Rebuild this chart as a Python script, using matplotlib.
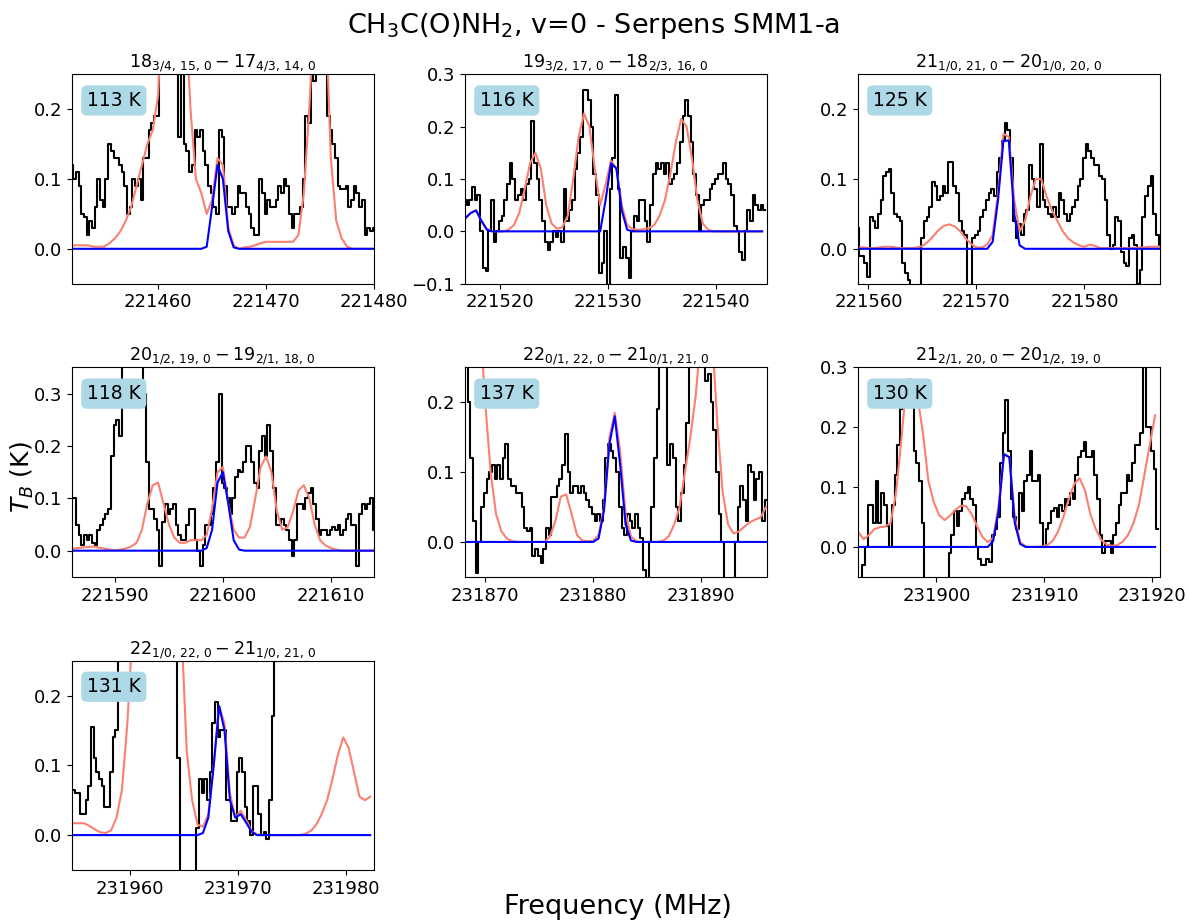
import numpy as np
import matplotlib
matplotlib.use('Agg')
import matplotlib.pyplot as plt
from matplotlib.ticker import MultipleLocator

# channel widths (MHz) of the observed spectra and of the model curves
obs_dv = 0.25
mod_dv = 0.5

# first channel frequency of each panel (MHz)
f_start = [221452.0, 221516.75, 221559.0, 221586.0, 231868.0, 231892.75, 231954.75]

titles = [r'$18_{3/4,\,15,\,0} - 17_{4/3,\,14,\,0}$',
          r'$19_{3/2,\,17,\,0} - 18_{2/3,\,16,\,0}$',
          r'$21_{1/0,\,21,\,0} - 20_{1/0,\,20,\,0}$',
          r'$20_{1/2,\,19,\,0} - 19_{2/1,\,18,\,0}$',
          r'$22_{0/1,\,22,\,0} - 21_{0/1,\,21,\,0}$',
          r'$21_{2/1,\,20,\,0} - 20_{1/2,\,19,\,0}$',
          r'$22_{1/0,\,22,\,0} - 21_{1/0,\,21,\,0}$']
temps = ['113 K', '116 K', '125 K', '118 K', '137 K', '130 K', '131 K']

# observed spectra (K)
obs1 = [0.12, 0.10, 0.11, 0.09, 0.05, 0.045, 0.02, 0.04, 0.03, 0.06,
        0.10, 0.07, 0.06, 0.10, 0.15, 0.14, 0.13, 0.13, 0.12, 0.11,
        0.09, 0.05, 0.06, 0.10, 0.09, 0.10, 0.07, 0.13, 0.13, 0.17,
        0.18, 0.19, 0.19, 0.30, 0.35, 0.40, 0.40, 0.35, 0.30, 0.28,
        0.16, 0.30, 0.15, 0.14, 0.11, 0.12, 0.17, 0.16, 0.17, 0.14,
        0.12, 0.09, 0.08, 0.06, 0.05, 0.17, 0.16, 0.09, 0.06, 0.06,
        0.05, 0.06, 0.09, 0.08, 0.08, 0.06, 0.05, 0.03, 0.02, 0.02,
        0.10, 0.08, 0.05, 0.07, 0.06, 0.06, 0.07, 0.09, 0.08, 0.10,
        0.09, 0.05, 0.03, 0.05, 0.05, 0.06, 0.10, 0.19, 0.18, 0.28,
        0.24, 0.25, 0.30, 0.32, 0.28, 0.19, 0.17, 0.15, 0.13, 0.09,
        0.085, 0.085, 0.09, 0.06, 0.07, 0.09, 0.08, 0.06, 0.07, 0.02,
        0.03, 0.025, 0.03]
obs2 = [0.06, 0.05, 0.06, 0.085, 0.06, 0.07, 0.0, -0.07, -0.075, 0.0,
        0.06, -0.02, 0.0, 0.02, 0.03, 0.06, 0.09, 0.13, 0.10, 0.06,
        0.07, 0.08, 0.06, 0.09, 0.10, 0.21, 0.13, 0.10, 0.06, 0.02,
        -0.02, -0.035, -0.02, 0.0, -0.01, 0.0, -0.02, 0.08, 0.02, 0.04,
        0.06, 0.12, 0.15, 0.18, 0.27, 0.27, 0.25, 0.20, 0.11, 0.07,
        -0.08, -0.06, 0.0, -0.12, 0.08, 0.14, 0.26, 0.08, -0.05, -0.03,
        -0.05, -0.09, 0.0, 0.03, 0.02, 0.06, 0.06, 0.02, -0.02, 0.05,
        0.11, 0.13, 0.12, 0.13, 0.11, 0.13, 0.09, 0.10, 0.11, 0.13,
        0.17, 0.22, 0.25, 0.22, 0.17, 0.11, 0.07, 0.0, 0.05, 0.06,
        0.06, 0.08, 0.09, 0.10, 0.11, 0.11, 0.13, 0.10, 0.09, 0.07,
        0.01, 0.0, -0.04, -0.055, 0.0, 0.04, 0.02, 0.07, 0.05, 0.04,
        0.05, 0.04]
obs3 = [0.03, -0.01, -0.01, -0.02, -0.04, 0.045, 0.04, 0.03, 0.05, 0.07,
        0.105, 0.11, 0.115, 0.08, 0.05, 0.045, 0.04, -0.02, -0.035, -0.045,
        -0.07, -0.08, -0.07, -0.06, 0.015, 0.04, 0.045, 0.06, 0.095, 0.09,
        0.07, 0.075, 0.09, 0.08, 0.125, 0.125, 0.09, 0.08, 0.04, 0.025,
        0.02, -0.07, -0.06, 0.015, 0.02, 0.025, 0.045, 0.055, 0.07, 0.08,
        0.085, 0.075, 0.11, 0.13, 0.155, 0.18, 0.17, 0.13, 0.04, 0.015,
        0.035, 0.02, 0.05, 0.055, 0.12, 0.10, 0.085, 0.06, 0.15, 0.07,
        0.06, 0.05, 0.045, 0.06, 0.045, 0.08, 0.07, 0.05, 0.04, 0.05,
        0.06, 0.07, 0.09, 0.10, 0.13, 0.15, 0.14, 0.13, 0.12, 0.12,
        0.105, 0.10, 0.07, 0.02, 0.0, 0.005, 0.045, 0.04, -0.005, -0.02,
        -0.025, 0.015, 0.02, 0.005, -0.05, -0.03, 0.045, 0.075, 0.09, 0.105,
        0.05, 0.02, 0.005]
obs4 = [0.10, 0.10, 0.05, 0.03, 0.01, 0.03, 0.02, 0.03, 0.015, 0.01,
        0.04, 0.05, 0.06, 0.07, 0.08, 0.18, 0.24, 0.25, 0.22, 0.38,
        0.45, 0.50, 0.52, 0.50, 0.47, 0.43, 0.38, 0.30, 0.17, 0.08,
        0.08, 0.06, 0.04, -0.03, 0.055, 0.09, 0.07, 0.08, 0.09, 0.05,
        0.03, 0.02, 0.02, 0.05, 0.08, 0.08, 0.02, 0.0, -0.03, 0.01,
        0.05, 0.05, 0.07, 0.12, 0.17, 0.30, 0.13, 0.12, 0.10, 0.07,
        0.10, 0.14, 0.155, 0.15, 0.17, 0.20, 0.20, 0.17, 0.13, 0.12,
        0.19, 0.22, 0.18, 0.24, 0.19, 0.12, 0.05, 0.05, 0.06, 0.05,
        0.04, 0.02, -0.01, 0.02, 0.09, 0.09, 0.08, 0.10, 0.11, 0.12,
        0.09, 0.06, 0.03, 0.04, 0.04, 0.03, 0.04, 0.045, 0.04, 0.05,
        0.03, 0.04, 0.06, 0.07, 0.05, 0.05, -0.03, 0.07, 0.09, 0.08,
        0.09, 0.10, 0.04]
obs5 = [0.30, 0.25, 0.20, 0.12, 0.03, -0.045, 0.0, 0.05, 0.07, 0.09,
        0.10, 0.11, 0.09, 0.11, 0.09, 0.12, 0.14, 0.09, 0.08, 0.08,
        0.07, 0.07, 0.05, 0.02, 0.015, 0.02, -0.02, -0.01, -0.02, -0.03,
        -0.01, 0.02, 0.01, 0.065, 0.065, 0.08, 0.09, 0.11, 0.155, 0.10,
        0.07, 0.08, 0.08, 0.07, 0.08, 0.07, 0.06, 0.05, 0.04, 0.03,
        0.04, 0.03, 0.06, 0.12, 0.14, 0.13, 0.12, 0.10, 0.05, 0.02,
        0.01, 0.04, 0.03, 0.02, 0.04, 0.02, 0.005, -0.04, -0.06, 0.0,
        0.05, 0.12, 0.19, 0.26, 0.30, 0.28, 0.11, 0.14, 0.12, 0.05,
        0.03, 0.07, 0.11, 0.17, 0.25, 0.30, 0.35, 0.35, 0.32, 0.28,
        0.23, 0.24, 0.20, 0.16, 0.10, 0.04, 0.0, -0.06, -0.08, -0.08,
        -0.06, 0.0, 0.05, 0.08, 0.06, 0.03, 0.11, 0.10, 0.06, 0.09,
        0.10, 0.03, 0.06]
obs6 = [-0.07, -0.08, -0.03, 0.0, 0.07, 0.07, 0.04, 0.11, 0.04, 0.09,
        0.07, 0.035, 0.0, 0.07, 0.12, 0.17, 0.23, 0.24, 0.25, 0.24,
        0.25, 0.16, 0.14, 0.11, 0.04, -0.07, -0.10, -0.12, -0.12, -0.12,
        -0.10, -0.09, -0.07, -0.06, -0.01, 0.02, 0.06, 0.035, 0.06, 0.08,
        0.09, 0.10, 0.08, 0.07, 0.0, -0.02, -0.03, -0.03, -0.02, -0.025,
        0.02, 0.03, 0.05, 0.14, 0.19, 0.245, 0.16, 0.08, 0.05, 0.03,
        0.09, 0.06, 0.11, 0.12, 0.16, 0.11, 0.11, 0.12, 0.04, 0.0,
        0.03, 0.04, 0.06, 0.065, 0.05, 0.07, 0.06, 0.08, 0.07, 0.09,
        0.08, 0.12, 0.15, 0.16, 0.175, 0.15, 0.15, 0.16, 0.12, 0.08,
        0.02, -0.01, 0.01, 0.01, -0.01, 0.02, 0.04, 0.07, 0.09, 0.09,
        0.12, 0.11, 0.14, 0.17, 0.17, 0.19, 0.34, 0.20, 0.20, 0.16,
        0.13, 0.03]
obs7 = [0.065, 0.06, 0.06, 0.03, 0.03, 0.05, 0.07, 0.155, 0.11, 0.09,
        0.08, 0.07, 0.04, 0.04, 0.09, 0.14, 0.15, 0.30, 0.40, 0.50,
        0.6, 0.7, 0.8, 0.9, 1.0, 1.0, 0.95, 0.9, 0.85, 0.8,
        0.75, 0.7, 0.65, 0.6, 0.55, 0.5, 0.45, 0.40, 0.35, 0.11,
        -0.10, -0.15, -0.20, -0.20, -0.15, -0.10, 0.01, 0.08, 0.06, 0.08,
        0.05, 0.09, 0.16, 0.19, 0.14, 0.15, 0.15, 0.05, 0.05, 0.02,
        0.02, 0.09, 0.11, 0.09, 0.04, 0.02, 0.0, 0.07, 0.07, 0.03,
        0.0, 0.005, -0.005, 0.05, 0.17, 0.25, 0.35, 0.45, 0.55, 0.65,
        0.75, 0.85, 0.95, 1.05, 1.15, 1.25, 1.35, 1.45, 1.5, 1.55,
        1.6, 1.65, 1.7, 1.7, 1.7, 1.65, 1.6, 1.55, 1.5, 1.45,
        1.4, 1.35, 1.3, 1.25, 1.2, 1.15, 1.1, 1.05, 1.0, 0.95,
        0.9, 0.85]

# full model (all species)
mod1 = [0.005, 0.005, 0.005, 0.005, 0.003, 0.003, 0.003, 0.008, 0.015, 0.025,
        0.04, 0.06, 0.09, 0.12, 0.15, 0.17, 0.22, 0.40, 0.60, 0.70,
        0.60, 0.35, 0.20, 0.10, 0.08, 0.05, 0.07, 0.13, 0.12, 0.03,
        0.005, 0.0, 0.002, 0.003, 0.005, 0.008, 0.01, 0.01, 0.01, 0.01,
        0.01, 0.01, 0.02, 0.08, 0.20, 0.35, 0.50, 0.35, 0.13, 0.04,
        0.015, 0.003, 0.0, 0.0, 0.0, 0.0, 0.0]
mod2 = [0.025, 0.035, 0.04, 0.02, 0.005, 0.0, 0.0, 0.0, 0.003, 0.012,
        0.035, 0.08, 0.13, 0.15, 0.12, 0.05, 0.015, 0.005, 0.008, 0.03,
        0.10, 0.18, 0.225, 0.20, 0.12, 0.05, 0.09, 0.135, 0.12, 0.05,
        0.012, 0.004, 0.003, 0.004, 0.006, 0.012, 0.03, 0.06, 0.11, 0.17,
        0.215, 0.20, 0.14, 0.06, 0.015, 0.003, 0.0, 0.0, 0.0, 0.0,
        0.0, 0.0, 0.0, 0.0, 0.0, 0.0]
mod3 = [0.002, 0.002, 0.001, 0.001, 0.002, 0.003, 0.003, 0.002, 0.001, 0.001,
        0.001, 0.002, 0.004, 0.01, 0.018, 0.027, 0.033, 0.035, 0.032, 0.025,
        0.015, 0.007, 0.002, 0.002, 0.006, 0.02, 0.08, 0.165, 0.16, 0.07,
        0.025, 0.04, 0.075, 0.10, 0.10, 0.075, 0.055, 0.04, 0.025, 0.015,
        0.009, 0.005, 0.003, 0.006, 0.004, 0.001, 0.001, 0.001, 0.001, 0.001,
        0.001, 0.001, 0.002, 0.002, 0.003, 0.003, 0.003]
mod4 = [0.004, 0.005, 0.006, 0.007, 0.008, 0.006, 0.004, 0.002, 0.001, 0.002,
        0.004, 0.008, 0.015, 0.04, 0.09, 0.125, 0.13, 0.09, 0.05, 0.025,
        0.015, 0.015, 0.02, 0.02, 0.02, 0.03, 0.08, 0.15, 0.16, 0.09,
        0.04, 0.025, 0.025, 0.045, 0.10, 0.16, 0.18, 0.15, 0.075, 0.04,
        0.045, 0.075, 0.115, 0.125, 0.10, 0.05, 0.02, 0.01, 0.005, 0.002,
        0.0, 0.0, 0.0, 0.0, 0.0, 0.0, 0.0]
mod5 = [0.8, 0.6, 0.45, 0.32, 0.20, 0.10, 0.04, 0.015, 0.005, 0.001,
        0.0, 0.0, 0.0, 0.0, 0.0, 0.0, 0.008, 0.03, 0.065, 0.068,
        0.04, 0.01, 0.002, 0.001, 0.002, 0.01, 0.05, 0.15, 0.185, 0.13,
        0.04, 0.008, 0.001, 0.0, 0.0, 0.0, 0.0, 0.002, 0.008, 0.025,
        0.05, 0.10, 0.15, 0.21, 0.30, 0.33, 0.30, 0.17, 0.07, 0.025,
        0.012, 0.015, 0.022, 0.028, 0.032, 0.035, 0.05]
mod6 = [0.025, 0.013, 0.02, 0.03, 0.033, 0.034, 0.04, 0.09, 0.18, 0.28,
        0.28, 0.25, 0.19, 0.11, 0.075, 0.053, 0.045, 0.052, 0.062, 0.069,
        0.068, 0.055, 0.035, 0.017, 0.008, 0.015, 0.07, 0.155, 0.15, 0.05,
        0.008, 0.001, 0.0, 0.0, 0.001, 0.003, 0.01, 0.025, 0.05, 0.08,
        0.105, 0.115, 0.095, 0.055, 0.03, 0.012, 0.004, 0.002, 0.003, 0.009,
        0.02, 0.04, 0.07, 0.12, 0.17, 0.22]
mod7 = [0.017, 0.017, 0.017, 0.013, 0.008, 0.004, 0.003, 0.007, 0.025, 0.065,
        0.16, 0.30, 0.45, 0.6, 0.7, 0.75, 0.75, 0.7, 0.6, 0.45,
        0.3, 0.12, 0.05, 0.015, 0.012, 0.03, 0.10, 0.185, 0.16, 0.06,
        0.025, 0.035, 0.022, 0.006, 0.001, 0.0, 0.0, 0.0, 0.0, 0.0,
        0.0, 0.0, 0.0, 0.002, 0.006, 0.015, 0.03, 0.05, 0.08, 0.115,
        0.14, 0.125, 0.09, 0.055, 0.05, 0.055]

# CH3C(O)NH2 model only
spec1 = [0.0] * 25 + [0.003, 0.06, 0.12, 0.10, 0.025, 0.002] + [0.0] * 26
spec2 = [0.025, 0.035, 0.04, 0.02, 0.003] + [0.0] * 21 + [0.06, 0.13, 0.12, 0.04, 0.003] + [0.0] * 25
spec3 = [0.0] * 25 + [0.01, 0.07, 0.155, 0.155, 0.05, 0.005] + [0.0] * 26
spec4 = [0.0] * 25 + [0.005, 0.04, 0.13, 0.15, 0.09, 0.02, 0.002] + [0.0] * 25
spec5 = [0.0] * 25 + [0.005, 0.045, 0.14, 0.18, 0.11, 0.025, 0.002] + [0.0] * 25
spec6 = [0.0] * 25 + [0.01, 0.06, 0.155, 0.15, 0.04, 0.005] + [0.0] * 25
spec7 = [0.0] * 24 + [0.003, 0.025, 0.10, 0.185, 0.15, 0.05, 0.025, 0.03, 0.018, 0.005] + [0.0] * 22

observed = [obs1, obs2, obs3, obs4, obs5, obs6, obs7]
models = [mod1, mod2, mod3, mod4, mod5, mod6, mod7]
species = [spec1, spec2, spec3, spec4, spec5, spec6, spec7]

xlims = [(221452.0, 221480.0), (221516.7, 221544.7), (221559.0, 221587.0),
         (221586.0, 221614.0), (231868.1, 231896.1), (231892.7, 231920.7),
         (231954.6, 231982.6)]
ylims = [(-0.05, 0.25), (-0.1, 0.3), (-0.05, 0.25), (-0.05, 0.35),
         (-0.05, 0.25), (-0.05, 0.3), (-0.05, 0.25)]

fig, axes = plt.subplots(3, 3, figsize=(11.88, 9.22), dpi=100)
plt.subplots_adjust(left=0.0604, right=0.9764, top=0.9194, bottom=0.0564,
                    wspace=0.30, hspace=0.40)
axes = axes.flatten()

for n in range(7):
    ax = axes[n]
    f_obs = f_start[n] + obs_dv * np.arange(len(observed[n]))
    f_mod = f_start[n] + mod_dv * np.arange(len(models[n]))
    ax.plot(f_obs, observed[n], color='k', lw=1.5, drawstyle='steps-mid')
    ax.plot(f_mod, models[n], color='salmon', lw=1.5)
    ax.plot(f_mod, species[n], color='blue', lw=1.5)
    ax.set_xlim(xlims[n])
    ax.set_ylim(ylims[n])
    ax.xaxis.set_major_locator(MultipleLocator(10))
    ax.yaxis.set_major_locator(MultipleLocator(0.1))
    ax.ticklabel_format(axis='x', useOffset=False, style='plain')
    ax.tick_params(labelsize=13)
    ax.set_title(titles[n], fontsize=12.6, pad=4)
    ax.text(0.05, 0.875, temps[n], transform=ax.transAxes, fontsize=13.5,
            va='center', ha='left',
            bbox=dict(boxstyle='round', facecolor='lightblue', edgecolor='none'))

axes[7].axis('off')
axes[8].axis('off')

fig.suptitle(r'CH$_3$C(O)NH$_2$, v=0 - Serpens SMM1-a', fontsize=19.5, y=0.988)
fig.text(0.52, 0.016, 'Frequency (MHz)', fontsize=19.5, ha='center', va='center')
fig.text(0.019, 0.482, r'$T_B$ (K)', fontsize=18, rotation=90, ha='center', va='center')

plt.savefig('out.png', dpi=100)
